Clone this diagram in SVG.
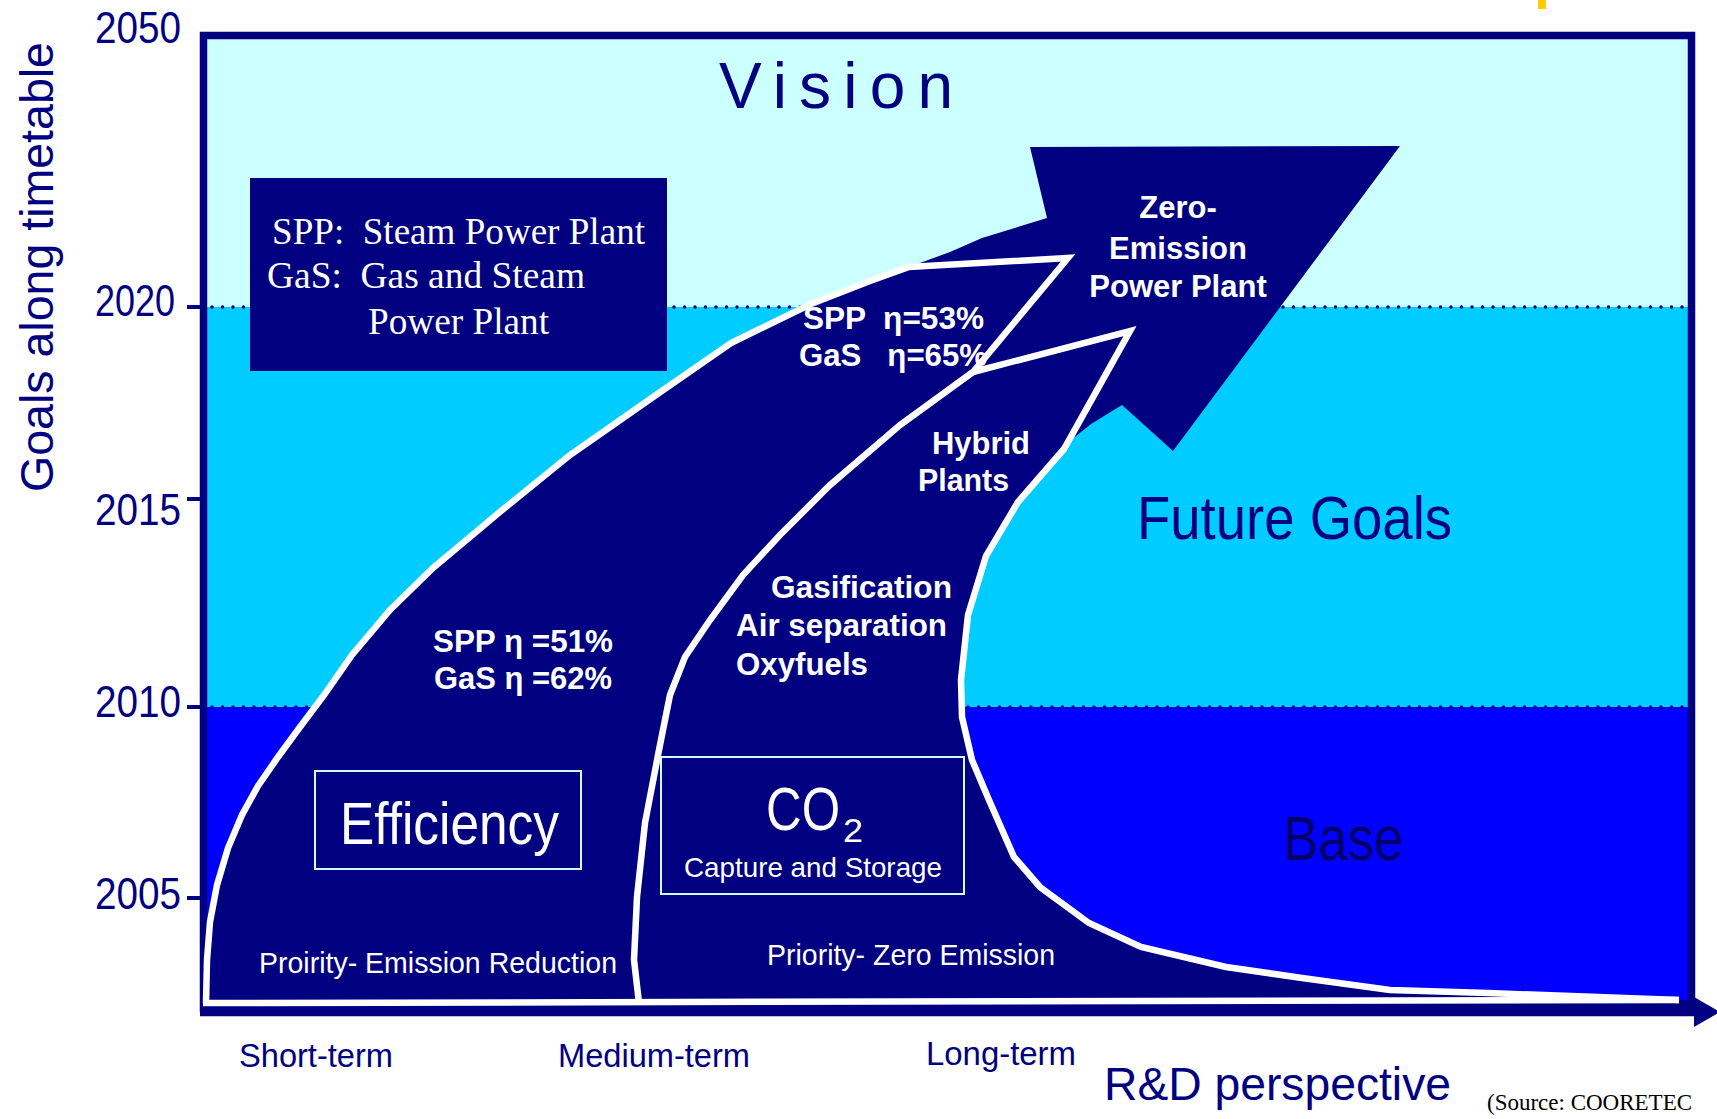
<svg xmlns="http://www.w3.org/2000/svg" width="1717" height="1119" viewBox="0 0 1717 1119">
<style>
.lab{font-family:"Liberation Sans",Arial,sans-serif;fill:#000080}
.w{font-family:"Liberation Sans",Arial,sans-serif;fill:#ffffff}
.wb{font-family:"Liberation Sans",Arial,sans-serif;fill:#ffffff;font-weight:bold;font-size:31px;white-space:pre}
.ser{font-family:"Liberation Serif","Times New Roman",serif;fill:#ffffff;font-size:37px;white-space:pre}
.dots{stroke:#000080;stroke-width:3.5;stroke-dasharray:0 10.5;stroke-linecap:round;fill:none}
.wl{fill:none;stroke:#ffffff;stroke-width:6.5;stroke-linejoin:miter;stroke-linecap:butt}
.box{fill:none;stroke:#ccffff;stroke-width:2}
</style>
<rect width="1717" height="1119" fill="#ffffff"/>
<rect x="1538" y="0" width="8" height="9" fill="#ffcc00"/>
<g id="bands">
<rect x="207" y="39" width="1481" height="268" fill="#ccffff"/>
<rect x="207" y="307" width="1481" height="400" fill="#00ccff"/>
<rect x="207" y="707" width="1481" height="301" fill="#0000ff"/>
<line class="dots" x1="212" y1="307" x2="1686" y2="307"/>
<line class="dots" x1="212" y1="707" x2="1686" y2="707"/>
</g>
<g id="frame">
<path d="M203.5,1012 V35.5 H1691.5 V1012" fill="none" stroke="#000080" stroke-width="7.5"/>
<line x1="200" y1="1012" x2="1700" y2="1012" stroke="#000080" stroke-width="8.5"/>
<polygon points="1694,997 1720,1012 1694,1027" fill="#000080"/>
<g stroke="#000080" stroke-width="4">
<line x1="187" y1="307" x2="201" y2="307"/>
<line x1="187" y1="499" x2="201" y2="499"/>
<line x1="187" y1="707" x2="201" y2="707"/>
<line x1="187" y1="898" x2="201" y2="898"/>
</g>
<g class="lab" font-size="44">
<text x="95" y="43" textLength="86" lengthAdjust="spacingAndGlyphs">2050</text>
<text x="95" y="316" textLength="80" lengthAdjust="spacingAndGlyphs">2020</text>
<text x="95" y="525" textLength="86" lengthAdjust="spacingAndGlyphs">2015</text>
<text x="95" y="717" textLength="86" lengthAdjust="spacingAndGlyphs">2010</text>
<text x="95" y="909" textLength="86" lengthAdjust="spacingAndGlyphs">2005</text>
</g>
<text class="lab" font-size="46" text-anchor="middle" transform="translate(53,267) rotate(-90)" textLength="450" lengthAdjust="spacingAndGlyphs">Goals along timetable</text>
<g class="lab" font-size="34">
<text x="239" y="1067" textLength="154" lengthAdjust="spacingAndGlyphs">Short-term</text>
<text x="558" y="1067" textLength="192" lengthAdjust="spacingAndGlyphs">Medium-term</text>
<text x="926" y="1065" textLength="150" lengthAdjust="spacingAndGlyphs">Long-term</text>
</g>
<text class="lab" x="1104" y="1100" font-size="46" textLength="347" lengthAdjust="spacingAndGlyphs">R&amp;D perspective</text>
<text x="1487" y="1110" font-family="'Liberation Serif','Times New Roman',serif" font-size="23" fill="#000000">(Source: COORETEC</text>
</g>
<g id="region-labels">
<text class="lab" x="719" y="108" font-size="64" textLength="234" lengthAdjust="spacing">Vision</text>
<text class="lab" x="1137" y="539" font-size="61" textLength="315" lengthAdjust="spacingAndGlyphs">Future Goals</text>
<text x="1283" y="860" font-size="63" textLength="120" lengthAdjust="spacingAndGlyphs" font-family="'Liberation Sans',Arial,sans-serif" fill="#000066">Base</text>
</g>
<g id="legend">
<rect x="250" y="178" width="417" height="193" fill="#000080"/>
<text class="ser" x="272" y="244" textLength="373" lengthAdjust="spacingAndGlyphs">SPP:  Steam Power Plant</text>
<text class="ser" x="267" y="288" textLength="318" lengthAdjust="spacingAndGlyphs">GaS:  Gas and Steam</text>
<text class="ser" x="368" y="334" textLength="181" lengthAdjust="spacingAndGlyphs">Power Plant</text>
</g>
<g id="arrow">
<path fill="#000080" d="M206,1008 L206,1003 L207,960 L210,922 L217,885 L228,848 L242,815 L258,786 L278,757 L300,727 L324,695 L352,655 L390,610 L433,568 L501,511 L570,455 L656,395 L731,343 L811,304 L870,281 L909,267 L950,252 L982,238 L1047,218 L1030,147 L1400,146 L1173,451 L1122,405 L1091,424 L1066,444 L1064,449 L1018,502 L986,556 L968,615 L961,680 L962,717 L972,760 L989,800 L1014,857 L1040,887 L1089,923 L1141,947 L1226,967 L1302,978 L1390,990 L1488,993 L1679,1000 L1688,1000 L1688,1008 Z"/>
</g>
<g id="zero-emission">
<text class="wb" x="1178" y="218" text-anchor="middle">Zero-</text>
<text class="wb" x="1178" y="259" text-anchor="middle">Emission</text>
<text class="wb" x="1178" y="297" text-anchor="middle">Power Plant</text>
</g>
<g id="texts-inner">
<text class="wb" x="803" y="329" textLength="181" lengthAdjust="spacingAndGlyphs">SPP  η=53%</text>
<text class="wb" x="799" y="366" textLength="188" lengthAdjust="spacingAndGlyphs">GaS   η=65%</text>
<text class="wb" x="932" y="454" textLength="98" lengthAdjust="spacingAndGlyphs">Hybrid</text>
<text class="wb" x="918" y="491" textLength="91" lengthAdjust="spacingAndGlyphs">Plants</text>
<text class="wb" x="771" y="598" textLength="181" lengthAdjust="spacingAndGlyphs">Gasification</text>
<text class="wb" x="736" y="636" textLength="211" lengthAdjust="spacingAndGlyphs">Air separation</text>
<text class="wb" x="736" y="675" textLength="132" lengthAdjust="spacingAndGlyphs">Oxyfuels</text>
<text class="wb" x="433" y="652" textLength="180" lengthAdjust="spacingAndGlyphs">SPP η =51%</text>
<text class="wb" x="434" y="689" textLength="178" lengthAdjust="spacingAndGlyphs">GaS η =62%</text>
</g>
<g id="efficiency">
<rect class="box" x="315" y="771" width="266" height="98"/>
<text class="w" x="340" y="844" font-size="60" textLength="219" lengthAdjust="spacingAndGlyphs">Efficiency</text>
</g>
<g id="co2">
<rect class="box" x="661" y="757" width="303" height="137"/>
<text class="w"><tspan x="766" y="830" font-size="62" textLength="74" lengthAdjust="spacingAndGlyphs">CO</tspan><tspan x="843" y="842" font-size="33" textLength="20" lengthAdjust="spacingAndGlyphs">2</tspan></text>
<text class="w" x="684" y="877" font-size="28" textLength="258" lengthAdjust="spacingAndGlyphs">Capture and Storage</text>
</g>
<g id="priorities">
<text class="w" x="259" y="973" font-size="29" textLength="358" lengthAdjust="spacingAndGlyphs">Proirity- Emission Reduction</text>
<text class="w" x="767" y="965" font-size="29" textLength="288" lengthAdjust="spacingAndGlyphs">Priority- Zero Emission</text>
</g>
<g id="connectors">
<path class="wl" d="M206,1003 L207,960 L210,922 L217,885 L228,848 L242,815 L258,786 L278,757 L300,727 L324,695 L352,655 L390,610 L433,568 L501,511 L570,455 L656,395 L731,343 L811,304 L870,281 L909,267 L1068,258 L973,372 L900,425 L829,486 L780,535 L743,575 L710,620 L685,657 L670,695 L659,750 L645,823 L637,897 L634,960 L639,1003"/>
<path class="wl" d="M973,372 L1130,331 L1064,449 L1018,502 L986,556 L968,615 L961,680 L962,717 L972,760 L989,800 L1014,857 L1040,887 L1089,923 L1141,947 L1226,967 L1302,978 L1390,990 L1488,993 L1679,1000"/>
<path class="wl" d="M203,1003 L1679,1000" stroke-linecap="round"/>
</g>
</svg>
